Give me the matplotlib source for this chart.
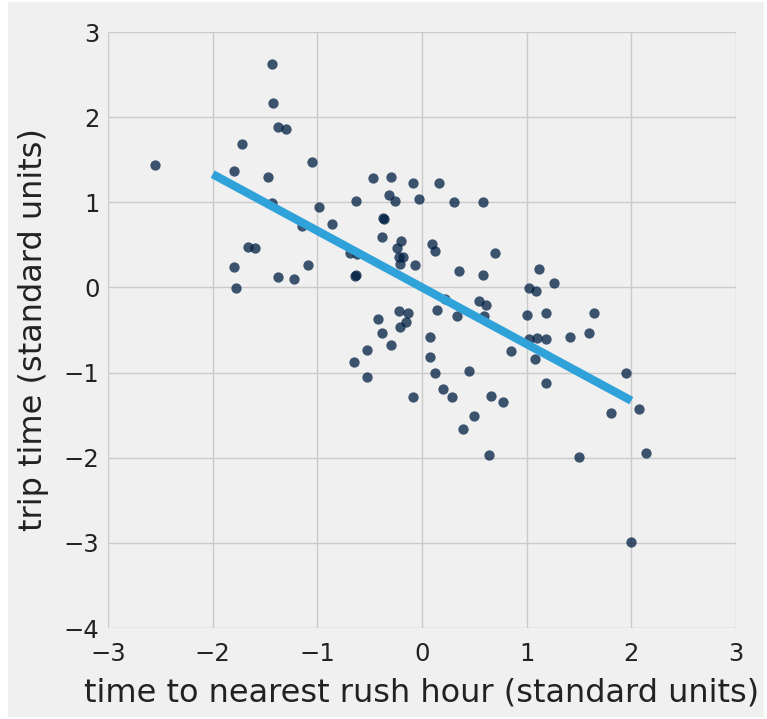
import matplotlib
matplotlib.use("Agg")
import matplotlib.pyplot as plt
from matplotlib.patches import Rectangle

# points (standard units)
rush_x = [-2.55, -1.43, -1.42, -1.38, -1.30, -1.72, -1.80, -1.47, -1.05, -1.43,
          -0.98, -0.86, -1.15, -0.63, -0.47, -0.30, -0.09, -0.03, -0.32, -0.26,
          -0.37, -0.36, -0.38, -0.20, -0.24, -0.22, -0.18, -0.21, -0.07, -0.69,
          -0.62, -0.64, -0.63, -1.66, -1.60, -1.80, -1.38, -1.22, -1.09, -1.78,
          0.16, 0.31, 0.58, 0.10, 0.12, 0.70, 0.35, 0.58, 1.12, 1.26,
          1.02, 1.09, 0.54, 0.61, 0.59, 0.14, 0.33, 0.22, -0.22, -0.13,
          -0.15, -0.21, -0.42, -0.38, -0.30, -0.53, -0.65, -0.53, -0.09, 0.08,
          0.08, 0.12, 0.20, 0.29, 0.45, 0.50, 0.39, 0.66, 0.77, 0.64,
          0.85, 1.00, 1.18, 1.64, 1.60, 1.41, 1.02, 1.10, 1.18, 1.08,
          1.18, 1.50, 1.95, 1.81, 2.07, 2.14, 2.00]
trip_y = [1.44, 2.62, 2.17, 1.89, 1.86, 1.68, 1.37, 1.30, 1.47, 0.99,
          0.95, 0.74, 0.72, 1.01, 1.28, 1.30, 1.23, 1.04, 1.09, 1.02,
          0.81, 0.80, 0.59, 0.55, 0.46, 0.36, 0.355, 0.28, 0.26, 0.41,
          0.39, 0.135, 0.15, 0.48, 0.46, 0.24, 0.12, 0.10, 0.26, -0.01,
          1.23, 1.00, 1.00, 0.51, 0.43, 0.41, 0.19, 0.15, 0.22, 0.05,
          -0.01, -0.04, -0.16, -0.21, -0.34, -0.26, -0.33, -0.14, -0.28, -0.30,
          -0.41, -0.46, -0.37, -0.53, -0.68, -0.73, -0.88, -1.05, -1.29, -0.58,
          -0.82, -1.01, -1.19, -1.29, -0.98, -1.51, -1.66, -1.27, -1.34, -1.97,
          -0.75, -0.32, -0.30, -0.30, -0.54, -0.58, -0.61, -0.59, -0.61, -0.84,
          -1.12, -1.99, -1.01, -1.48, -1.43, -1.95, -2.99]

# regression line end points
line_x = [-2, 2]
line_y = [1.33, -1.33]

plt.style.use("fivethirtyeight")
W, H = 767, 719
fig = plt.figure(figsize=(W / 100, H / 100), dpi=100)
fig.patch.set_facecolor("white")
# grey panel with thin white border like the screenshot
fig.patches.append(Rectangle((8 / W, 2 / H), (764 - 8) / W, (717 - 2) / H,
                             transform=fig.transFigure, facecolor="#f0f0f0",
                             edgecolor="none", zorder=-10))

ax = fig.add_axes([108 / W, 1 - 628 / H, 628 / W, 596 / H])
ax.set_facecolor("#f0f0f0")

ax.scatter(rush_x, trip_y, s=55, color="#001e42", alpha=0.75, lw=0, zorder=3)
ax.plot(line_x, line_y, color="#30a2da", lw=6, solid_capstyle="butt", zorder=4)

ax.set_xlim(-3, 3)
ax.set_ylim(-4, 3)
ax.set_xticks(range(-3, 4))
ax.set_yticks(range(-4, 4))
ax.set_xticklabels([str(v).replace("-", "\u2212") for v in range(-3, 4)])
ax.set_yticklabels([str(v).replace("-", "\u2212") for v in range(-4, 4)])
ax.tick_params(labelsize=17.5, colors="#222222", length=0)
ax.tick_params(axis="x", pad=10)
ax.tick_params(axis="y", pad=6)
ax.grid(True, color="#cbcbcb", lw=1)
for s in ax.spines.values():
    s.set_visible(False)

ax.set_xlabel("time to nearest rush hour (standard units)", fontsize=23,
              color="#222222", labelpad=8)
ax.set_ylabel("trip time (standard units)", fontsize=23, color="#222222",
              labelpad=11)

fig.savefig("out.png", dpi=100, facecolor=fig.get_facecolor())
